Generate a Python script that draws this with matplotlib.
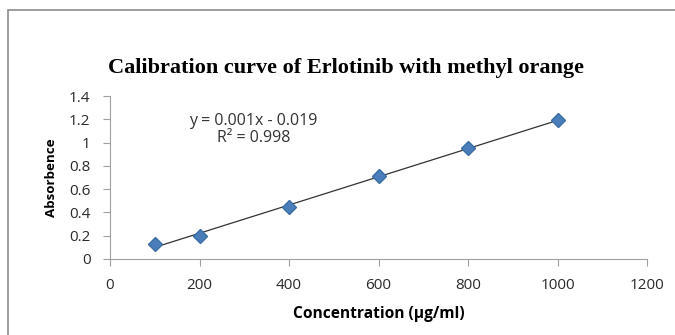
import numpy as np
import matplotlib
matplotlib.use('Agg')
import matplotlib.pyplot as plt
from matplotlib.patches import Rectangle

# concentration (ug/ml) and absorbance
conc = [100, 200, 400, 600, 800, 1000]
absorb = [0.125, 0.2, 0.45, 0.71, 0.955, 1.19]
xticks = [0, 200, 400, 600, 800, 1000, 1200]
yticks = [0, 0.2, 0.4, 0.6, 0.8, 1, 1.2, 1.4]

plt.rcParams['font.family'] = ['Open Sans', 'DejaVu Sans']

fig = plt.figure(figsize=(6.75, 3.35), dpi=100)
fig.patches.append(Rectangle((8/675, -0.1), 1.2, (335-10)/335 + 0.1,
                             transform=fig.transFigure, fill=False,
                             edgecolor='#8c8c8c', linewidth=1.2))

ax = fig.add_axes([110/675, (335-259)/335, 537/675, 163/335])

# linear trendline
m, c = np.polyfit(conc, absorb, 1)
xs = np.array([conc[0], conc[-1]])
ax.plot(xs, m*xs + c, color='#333333', linewidth=0.9, zorder=2)
ax.plot(conc, absorb, linestyle='none', marker='D', markersize=7.5,
        color='#4a7ebb', markeredgecolor='#3a6ea5', zorder=3)

ax.set_xlim(0, 1200)
ax.set_ylim(0, 1.4)
ax.set_xticks(xticks)
ax.set_yticks(yticks)
ax.set_xticklabels([str(t) for t in xticks])
ax.set_yticklabels(['0', '0.2', '0.4', '0.6', '0.8', '1', '1.2', '1.4'])

for s in ['top', 'right']:
    ax.spines[s].set_visible(False)
for s in ['left', 'bottom']:
    ax.spines[s].set_color('#a0a0a0')
ax.tick_params(colors='#a0a0a0', labelcolor='#2a2a2a', labelsize=11,
               direction='out', length=5)
ax.tick_params(axis='x', pad=9)
ax.tick_params(axis='y', pad=9)

ax.text(320, 1.185, 'y = 0.001x - 0.019', ha='center', va='center',
        fontsize=11.5, color='#333333')
ax.text(320, 1.035, 'R² = 0.998', ha='center', va='center',
        fontsize=11.5, color='#333333')

ax.set_xlabel('Concentration (µg/ml)', fontsize=11.2, fontweight='bold',
              labelpad=9)
ax.set_ylabel('Absorbence', fontsize=9.6, fontweight='bold', labelpad=8)

fig.text(346/675, (335-68)/335, 'Calibration curve of Erlotinib with methyl orange',
         ha='center', va='center', fontsize=16, fontweight='bold',
         family='Liberation Serif')

fig.savefig('out.png', dpi=100)
